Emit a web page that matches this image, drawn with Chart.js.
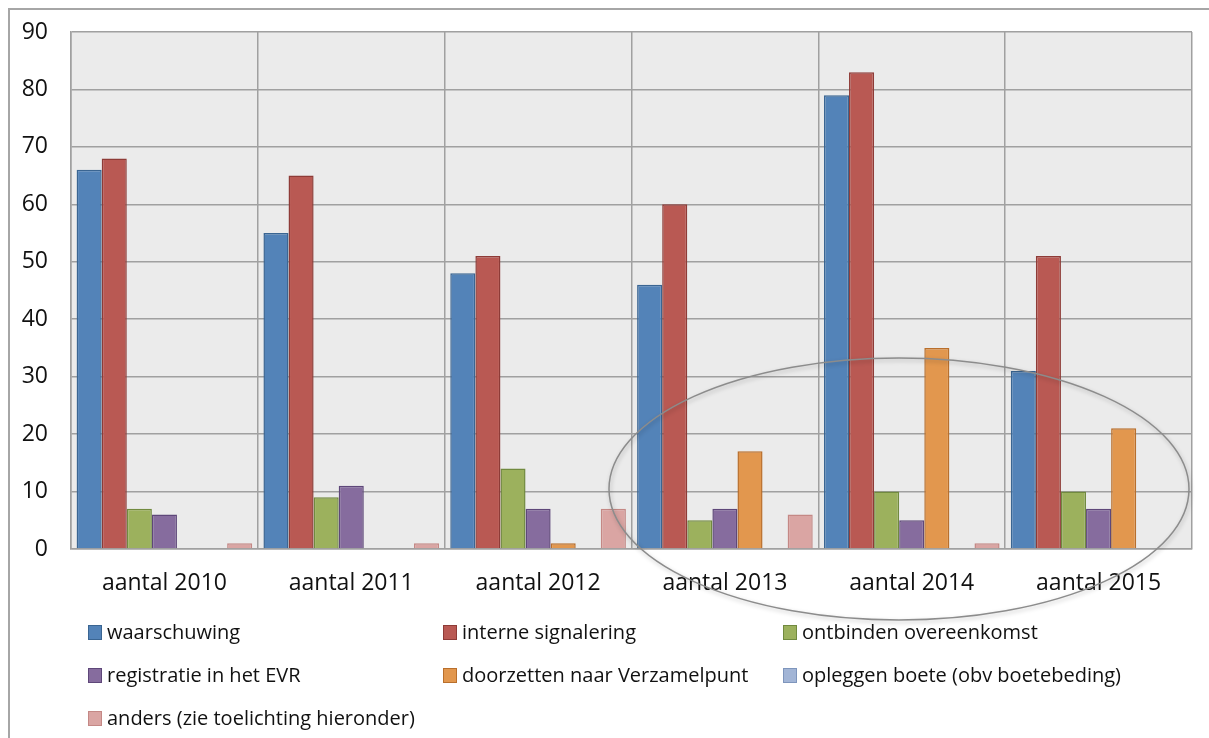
<!DOCTYPE html>
<html>
<head>
<meta charset="utf-8">
<script src="https://cdn.jsdelivr.net/npm/chart.js@4/dist/chart.umd.min.js"></script>
<style>
    html, body { margin: 0; padding: 0; background: #fff; }
    #wrap { position: relative; width: 1209px; height: 738px; overflow: hidden; }
    #frame { position: absolute; left: 8px; top: 8px; width: 1220px; height: 760px; border: 2px solid #a6a6a6; box-sizing: border-box; }
    #chart { position: absolute; left: 0; top: 0; }
    #legend { position: absolute; left: 88px; top: 617px; font-family: 'Open Sans', sans-serif; font-size: 20px; color: #111; }
    .item { position: absolute; white-space: nowrap; height: 30px; line-height: 30px; }
    .box { display: inline-block; width: 12px; height: 13px; margin-right: 5px; vertical-align: -1px; border: 1px solid; }
</style>
</head>
<body>
<div id="wrap">
    <div id="frame"></div>
    <canvas id="chart" width="1209" height="738"></canvas>
    <div id="legend"></div>
</div>
<script>
( function () {
    'use strict';

    var categories = [ 'aantal 2010', 'aantal 2011', 'aantal 2012', 'aantal 2013', 'aantal 2014', 'aantal 2015' ];
    var yTicks = [ 0, 10, 20, 30, 40, 50, 60, 70, 80, 90 ];

    var waarschuwing    = [ 66, 55, 48, 46, 79, 31 ];
    var interne         = [ 68, 65, 51, 60, 83, 51 ];
    var ontbinden       = [ 7, 9, 14, 5, 10, 10 ];
    var registratie     = [ 6, 11, 7, 7, 5, 7 ];
    var doorzetten      = [ 0, 0, 1, 17, 35, 21 ];
    var boete           = [ 0, 0, 0, 0, 0, 0 ];
    var anders          = [ 1, 1, 7, 6, 1, 0 ];

    var series = [
        { label: 'waarschuwing', data: waarschuwing, fill: '#5383b8', line: '#3a6592' },
        { label: 'interne signalering', data: interne, fill: '#b95953', line: '#8e3b37' },
        { label: 'ontbinden overeenkomst', data: ontbinden, fill: '#9cb15d', line: '#718a3f' },
        { label: 'registratie in het EVR', data: registratie, fill: '#866c9e', line: '#5e4779' },
        { label: 'doorzetten naar Verzamelpunt', data: doorzetten, fill: '#e2974e', line: '#b96f2c' },
        { label: 'opleggen boete (obv boetebeding)', data: boete, fill: '#a2b5d6', line: '#7e95bc' },
        { label: 'anders (zie toelichting hieronder)', data: anders, fill: '#daa5a3', line: '#c48885' },
    ];

    var font = "'Open Sans', sans-serif";
    var gridColor = '#a0a0a0';

    var plotBg = {
        id: 'plotBg',
        beforeDraw: function ( chart ) {
            var a = chart.chartArea, ctx = chart.ctx;
            ctx.save();
            ctx.fillStyle = '#ebebeb';
            ctx.fillRect( a.left, a.top, a.right - a.left, a.bottom - a.top );
            ctx.restore();
        },
    };

    // grey hand-drawn style ellipse around 2013-2015
    var ring = {
        id: 'ring',
        afterDatasetsDraw: function ( chart ) {
            var ctx = chart.ctx;
            ctx.save();
            ctx.shadowColor = 'rgba(0,0,0,0.25)';
            ctx.shadowBlur = 4;
            ctx.shadowOffsetX = 1;
            ctx.shadowOffsetY = 2;
            ctx.strokeStyle = '#8c8c8c';
            ctx.lineWidth = 1.5;
            ctx.beginPath();
            ctx.ellipse( 899, 489, 290, 131, 0, 0, Math.PI * 2 );
            ctx.stroke();
            ctx.restore();
        },
    };

    var chart = new Chart( document.getElementById( 'chart' ), {
        type: 'bar',
        data: {
            labels: categories,
            datasets: series.map( function ( s ) {
                return {
                    label: s.label,
                    data: s.data,
                    backgroundColor: s.fill,
                    borderColor: s.line,
                    borderWidth: 1.5,
                    borderSkipped: 'bottom',
                    categoryPercentage: 0.94,
                    barPercentage: 1,
                };
            } ),
        },
        options: {
            responsive: false,
            animation: false,
            layout: { padding: { top: 32, right: 17, bottom: 0, left: 0 } },
            plugins: {
                legend: { display: false },
                tooltip: { enabled: false },
            },
            scales: {
                x: {
                    grid: { color: gridColor, lineWidth: 1.5, drawTicks: false, offset: true },
                    border: { color: gridColor, width: 1.5 },
                    ticks: { color: '#111', font: { family: font, size: 23 }, padding: 21, maxRotation: 0, minRotation: 0 },
                    afterFit: function ( axis ) { axis.height = 189; },
                },
                y: {
                    min: 0,
                    max: 90,
                    afterBuildTicks: function ( axis ) {
                        axis.ticks = yTicks.map( function ( v ) { return { value: v }; } );
                    },
                    grid: { color: gridColor, lineWidth: 1.5, drawTicks: false },
                    border: { color: gridColor, width: 1.5 },
                    ticks: { color: '#111', font: { family: font, size: 23, lineHeight: 0.6 }, padding: 23 },
                    afterFit: function ( axis ) { axis.width = 71; },
                },
            },
        },
        plugins: [ plotBg, ring ],
    } );

    // three-column legend like the source
    var cols = [ 0, 355, 695 ];
    var legend = document.getElementById( 'legend' );
    chart.data.datasets.forEach( function ( ds, i ) {
        var el = document.createElement( 'div' );
        el.className = 'item';
        el.style.left = cols[ i % 3 ] + 'px';
        el.style.top = ( Math.floor( i / 3 ) * 43 ) + 'px';
        var box = document.createElement( 'span' );
        box.className = 'box';
        box.style.background = ds.backgroundColor;
        box.style.borderColor = ds.borderColor;
        el.appendChild( box );
        el.appendChild( document.createTextNode( ds.label ) );
        legend.appendChild( el );
    } );
} )();
</script>
</body>
</html>
